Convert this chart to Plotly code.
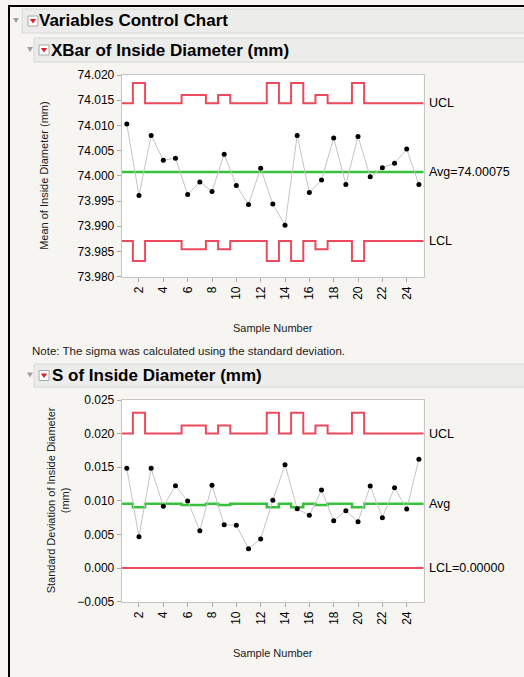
import plotly.graph_objects as go

W, H = 524, 677

# ---------------- data ----------------
samples = list(range(1, 26))
xbar = [74.0103, 73.9961, 74.0080, 74.0031, 74.0035, 73.9963, 73.9988, 73.9969,
        74.0043, 73.9981, 73.9943, 74.0015, 73.9944, 73.9902, 74.0080, 73.9967,
        73.9992, 74.0075, 73.9983, 74.0078, 73.9998, 74.0016, 74.0025, 74.0053,
        73.9983]
sdev = [0.01484, 0.00467, 0.01484, 0.00918, 0.01226, 0.00998, 0.00556, 0.01231,
        0.00646, 0.00636, 0.00289, 0.00433, 0.01008, 0.01538, 0.00884, 0.00785,
        0.01161, 0.00705, 0.00854, 0.00690, 0.01221, 0.00750, 0.01196, 0.00879,
        0.01618]
sample_size = [5, 3, 5, 5, 5, 4, 4, 5, 4, 5, 5, 5, 3, 5, 3, 5, 4, 5, 5, 3, 5, 5, 5, 5, 5]
xbar_ucl = {3: 74.01840, 4: 74.01604, 5: 74.01442}
xbar_lcl = {3: 73.98310, 4: 73.98546, 5: 73.98708}
xbar_avg = 74.00075
s_ucl = {3: 0.0231, 4: 0.0212, 5: 0.0200}
s_center = {3: 0.00903, 4: 0.00939, 5: 0.00958}
s_lcl = 0.0
x_ticks = list(range(2, 25, 2))
xbar_ticks = [73.980, 73.985, 73.990, 73.995, 74.000, 74.005, 74.010, 74.015, 74.020]
s_ticks = [-0.005, 0.000, 0.005, 0.010, 0.015, 0.020, 0.025]

# ---------------- helpers ----------------
FONT = "Liberation Sans, Arial, Helvetica, sans-serif"
RED = "#ec4a5c"
GREEN = "#36c23a"
BG = "#f6f5f2"


def X(px):
    return px / W


def Y(py):
    return 1 - py / H


def step(lookup):
    xs = [s - 0.5 for s in samples] + [samples[-1] + 0.5]
    ys = [lookup[n] for n in sample_size]
    ys = ys + [ys[-1]]
    return xs, ys


fig = go.Figure()

# ---- XBar chart ----
for lk in (xbar_ucl, xbar_lcl):
    xs, ys = step(lk)
    fig.add_trace(go.Scatter(x=xs, y=ys, mode="lines", line=dict(color=RED, width=2, shape="hv"),
                             xaxis="x", yaxis="y", hoverinfo="skip"))
fig.add_trace(go.Scatter(x=[samples[0] - 0.5, samples[-1] + 0.5], y=[xbar_avg, xbar_avg], mode="lines",
                         line=dict(color=GREEN, width=2.5), xaxis="x", yaxis="y"))
fig.add_trace(go.Scatter(x=samples, y=xbar, mode="lines+markers",
                         line=dict(color="#c4c4c4", width=1),
                         marker=dict(color="black", size=5), xaxis="x", yaxis="y"))

# ---- S chart ----
xs, ys = step(s_ucl)
fig.add_trace(go.Scatter(x=xs, y=ys, mode="lines", line=dict(color=RED, width=2, shape="hv"),
                         xaxis="x2", yaxis="y2"))
fig.add_trace(go.Scatter(x=[samples[0] - 0.5, samples[-1] + 0.5], y=[s_lcl, s_lcl], mode="lines",
                         line=dict(color=RED, width=2), xaxis="x2", yaxis="y2"))
xs, ys = step(s_center)
fig.add_trace(go.Scatter(x=xs, y=ys, mode="lines", line=dict(color=GREEN, width=2.5, shape="hv"),
                         xaxis="x2", yaxis="y2"))
fig.add_trace(go.Scatter(x=samples, y=sdev, mode="lines+markers",
                         line=dict(color="#c4c4c4", width=1),
                         marker=dict(color="black", size=5), xaxis="x2", yaxis="y2"))

# ---------------- axes ----------------
px_left, px_right = 121.7, 423.5
top1, bot1 = 75, 276.7
top2, bot2 = 400, 601.7

ax_common = dict(showline=True, mirror=True, linecolor="#c6c6c6", linewidth=1,
                 showgrid=False, zeroline=False, ticks="outside", ticklen=4, automargin=False,
                 tickcolor="#a8a8a8", tickfont=dict(family=FONT, size=12, color="#000000"))

xrng = [0.58, 25.38]
fig.update_layout(
    xaxis=dict(domain=[X(px_left), X(px_right)], range=xrng, anchor="y",
               tickvals=x_ticks, tickangle=-90, **ax_common),
    yaxis=dict(domain=[Y(bot1), Y(top1)], range=[73.980, 74.020], anchor="x",
               tickvals=xbar_ticks, tickformat=".3f", **ax_common),
    xaxis2=dict(domain=[X(px_left), X(px_right)], range=xrng, anchor="y2",
                tickvals=x_ticks, tickangle=-90, **ax_common),
    yaxis2=dict(domain=[Y(bot2), Y(top2)], range=[-0.005, 0.025], anchor="x2",
                tickvals=s_ticks, tickformat=".3f", **ax_common),
)

# ---------------- page decorations ----------------
shapes = []
annotations = []

# black frame
shapes.append(dict(type="line", xref="paper", yref="paper", x0=X(9), x1=X(9), y0=Y(5), y1=0,
                   line=dict(color="black", width=2)))
shapes.append(dict(type="line", xref="paper", yref="paper", x0=X(8), x1=1, y0=Y(6), y1=Y(6),
                   line=dict(color="black", width=2)))


def header(x0, y0, y1, tri_x, icon_x, text_x, text):
    shapes.append(dict(type="rect", xref="paper", yref="paper", x0=X(x0), x1=X(W + 5),
                       y0=Y(y1), y1=Y(y0), fillcolor="#ececeb", line=dict(color="#d6d6d4", width=1)))
    ym = (y0 + y1) / 2
    # disclosure triangle
    shapes.append(dict(type="path", xref="paper", yref="paper",
                       path=f"M {X(tri_x)},{Y(ym - 3)} L {X(tri_x + 6)},{Y(ym - 3)} L {X(tri_x + 3)},{Y(ym + 2)} Z",
                       fillcolor="#a0a0a0", line=dict(width=0)))
    # red popup icon
    shapes.append(dict(type="rect", xref="paper", yref="paper", x0=X(icon_x), x1=X(icon_x + 10),
                       y0=Y(ym + 5), y1=Y(ym - 5), fillcolor="white", line=dict(color="#a8a8a8", width=1)))
    shapes.append(dict(type="path", xref="paper", yref="paper",
                       path=f"M {X(icon_x + 1.8)},{Y(ym - 2)} L {X(icon_x + 8.2)},{Y(ym - 2)} L {X(icon_x + 5)},{Y(ym + 2.5)} Z",
                       fillcolor="#e0202a", line=dict(width=0)))
    annotations.append(dict(xref="paper", yref="paper", x=X(text_x), y=Y(ym), text=f"<b>{text}</b>",
                            showarrow=False, xanchor="left", yanchor="middle",
                            font=dict(family=FONT, size=17, color="black")))


header(22, 9, 33, 13, 28, 37, "Variables Control Chart")
header(34, 38, 62, 27, 39, 49, "XBar of Inside Diameter (mm)")
header(34, 364, 387, 27, 39, 50, "S of Inside Diameter (mm)")

lab_font = dict(family=FONT, size=12.5, color="black")
small_font = dict(family=FONT, size=11, color="#1a1a1a")

# right-hand limit labels
for txt, yv, ax in [("UCL", xbar_ucl[5], "y"), (f"Avg={xbar_avg:.5f}", xbar_avg, "y"),
                    ("LCL", xbar_lcl[5], "y"), ("UCL", s_ucl[5], "y2"),
                    ("Avg", s_center[5], "y2"), (f"LCL={s_lcl:.5f}", s_lcl, "y2")]:
    annotations.append(dict(xref="paper", yref=ax, x=X(427), y=yv, text=txt, showarrow=False,
                            xanchor="left", yanchor="middle", font=lab_font))

# axis titles
annotations.append(dict(xref="paper", yref="paper", x=X(272.5), y=Y(328), text="Sample Number",
                        showarrow=False, xanchor="center", yanchor="middle", font=small_font))
annotations.append(dict(xref="paper", yref="paper", x=X(272.5), y=Y(653), text="Sample Number",
                        showarrow=False, xanchor="center", yanchor="middle", font=small_font))
annotations.append(dict(xref="paper", yref="paper", x=X(44), y=Y((top1 + bot1) / 2),
                        text="Mean of Inside Diameter (mm)", textangle=-90,
                        showarrow=False, xanchor="center", yanchor="middle", font=small_font))
annotations.append(dict(xref="paper", yref="paper", x=X(57.5), y=Y((top2 + bot2) / 2),
                        text="Standard Deviation of Inside Diameter<br>(mm)", textangle=-90,
                        showarrow=False, xanchor="center", yanchor="middle", font=small_font))

# note
annotations.append(dict(xref="paper", yref="paper", x=X(30), y=Y(351),
                        text="Note: The sigma was calculated using the standard deviation.",
                        showarrow=False, xanchor="left", yanchor="middle",
                        font=dict(family=FONT, size=11.5, color="#1a1a1a")))

fig.update_layout(
    width=W, height=H, margin=dict(l=0, r=0, t=0, b=0, pad=0), autosize=False,
    paper_bgcolor=BG, plot_bgcolor="white", showlegend=False,
    shapes=shapes, annotations=annotations,
)

fig.write_html("out.html")
